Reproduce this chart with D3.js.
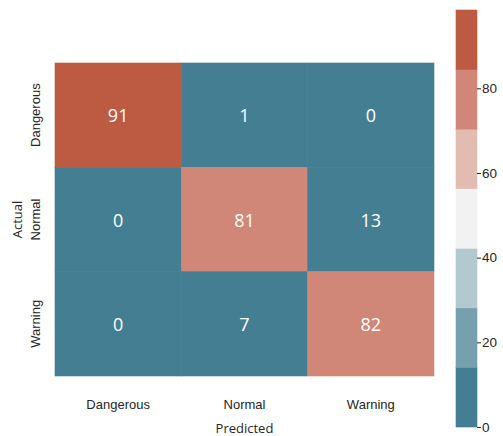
<!DOCTYPE html>
<html>
<head>
<meta charset="utf-8">
<script src="https://cdn.jsdelivr.net/npm/d3@7"></script>
<style>
  html, body { margin: 0; padding: 0; background: #fff; }
  svg { display: block; font-family: "Open Sans", "Noto Sans", sans-serif; }
</style>
</head>
<body>
<svg id="chart" width="503" height="436"></svg>
<script>
// Confusion matrix: rows = actual class, columns = predicted class
const actualLabels = ["Dangerous", "Normal", "Warning"];
const predictedLabels = ["Dangerous", "Normal", "Warning"];
const rowDangerous = [91, 1, 0];
const rowNormal = [0, 81, 13];
const rowWarning = [0, 7, 82];
const colorbarTicks = [0, 20, 40, 60, 80];
const paletteColors = ["#447e93", "#76a0ad", "#b2c9d0", "#f2f2f2", "#e2bcb1", "#d08777", "#bd5b42"];
const colorMax = 98.5;

const matrix = [rowDangerous, rowNormal, rowWarning];
const cells = [];
matrix.forEach((row, i) => row.forEach((v, j) => cells.push({ actual: actualLabels[i], predicted: predictedLabels[j], value: v })));

const svg = d3.select("#chart");
const plot = { left: 55, top: 63, right: 434, bottom: 376 };

const x = d3.scaleBand().domain(predictedLabels).range([plot.left, plot.right]);
const y = d3.scaleBand().domain(actualLabels).range([plot.top, plot.bottom]);

// Discrete palette split evenly over the value range
const color = d3.scaleQuantize().domain([0, colorMax]).range(paletteColors);

// Each cell gets a thin stroke of its own colour so neighbours meet without seams
svg.append("g").selectAll("rect").data(cells).join("rect")
  .attr("x", d => x(d.predicted))
  .attr("y", d => y(d.actual))
  .attr("width", x.bandwidth())
  .attr("height", y.bandwidth())
  .attr("fill", d => color(d.value))
  .attr("stroke", d => color(d.value))
  .attr("stroke-width", 0.6);

svg.append("g").selectAll("text").data(cells).join("text")
  .attr("x", d => x(d.predicted) + x.bandwidth() / 2)
  .attr("y", d => y(d.actual) + y.bandwidth() / 2)
  .attr("text-anchor", "middle")
  .attr("dominant-baseline", "central")
  .attr("font-size", 18)
  .attr("fill", "#ffffff")
  .text(d => d.value);

// Axes (tick marks hidden, labels only)
const xAxis = svg.append("g")
  .attr("transform", `translate(0,${plot.bottom})`)
  .call(d3.axisBottom(x).tickSize(0).tickPadding(24));
xAxis.select(".domain").remove();
xAxis.selectAll("text").attr("font-size", 13).attr("fill", "#262626").attr("font-family", null);

const yAxis = svg.append("g")
  .attr("transform", `translate(${plot.left},0)`)
  .call(d3.axisLeft(y).tickSize(0).tickPadding(0));
yAxis.select(".domain").remove();
yAxis.selectAll("text")
  .attr("font-size", 13).attr("fill", "#262626").attr("font-family", null)
  .attr("text-anchor", "middle")
  .attr("dy", null)
  .attr("x", null)
  .attr("transform", "translate(-15,0) rotate(-90)");

svg.append("text")
  .attr("x", (plot.left + plot.right) / 2)
  .attr("y", 433)
  .attr("text-anchor", "middle")
  .attr("font-size", 13)
  .attr("fill", "#262626")
  .text("Predicted");

svg.append("text")
  .attr("transform", `translate(22,${(plot.top + plot.bottom) / 2}) rotate(-90)`)
  .attr("text-anchor", "middle")
  .attr("font-size", 13)
  .attr("fill", "#262626")
  .text("Actual");

// Colorbar
const cb = { x: 456, width: 21, top: 10, bottom: 427 };
const cbScale = d3.scaleLinear().domain([0, colorMax]).range([cb.bottom, cb.top]);
const step = colorMax / paletteColors.length;
const bands = paletteColors.map((c, i) => ({ color: c, lo: i * step, hi: (i + 1) * step }));

svg.append("g").selectAll("rect").data(bands).join("rect")
  .attr("x", cb.x)
  .attr("y", d => cbScale(d.hi))
  .attr("width", cb.width)
  .attr("height", d => cbScale(d.lo) - cbScale(d.hi))
  .attr("fill", d => d.color)
  .attr("stroke", d => d.color)
  .attr("stroke-width", 0.6);

const cbAxis = svg.append("g")
  .attr("transform", `translate(${cb.x + cb.width},0)`)
  .call(d3.axisRight(cbScale).tickValues(colorbarTicks).tickSize(4).tickPadding(1));
cbAxis.select(".domain").remove();
cbAxis.selectAll("line").attr("stroke", "#262626");
cbAxis.selectAll("text").attr("font-size", 13.5).attr("fill", "#262626").attr("font-family", null);
</script>
</body>
</html>
